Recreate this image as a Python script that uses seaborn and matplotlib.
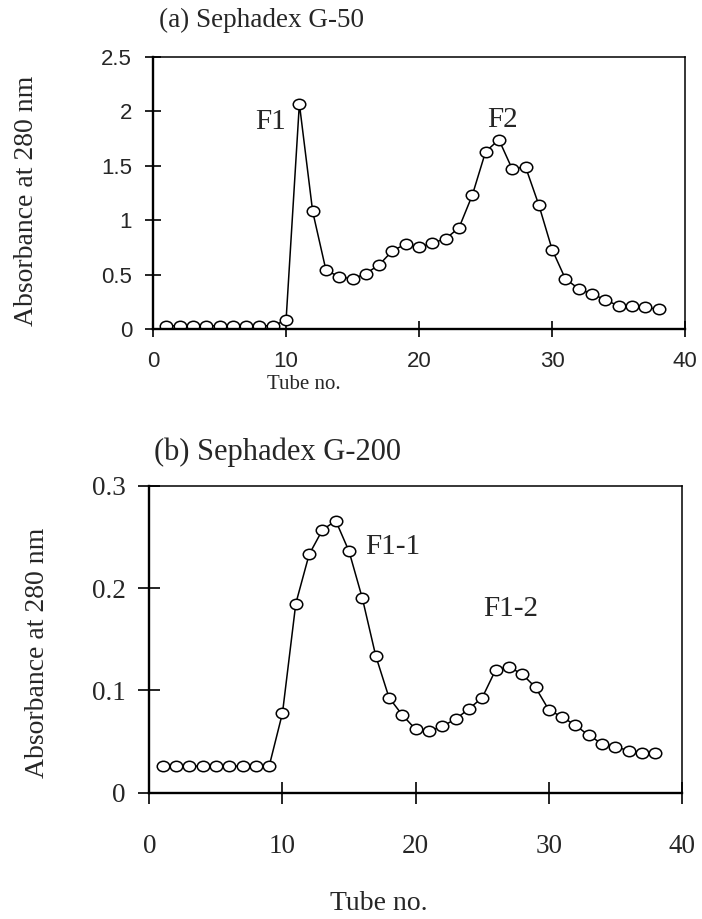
import numpy as np
import pandas as pd
import matplotlib
matplotlib.use("Agg")
import matplotlib.pyplot as plt
from matplotlib.path import Path
from matplotlib import font_manager
import seaborn as sns

sns.set_theme(style="white")
plt.rcParams['font.family'] = ['Liberation Serif', 'DejaVu Serif']

# ---- data ----
tubes = list(range(1, 39))
abs_g50 = [0.03, 0.03, 0.03, 0.03, 0.03, 0.03, 0.03, 0.03, 0.03, 0.08,
           2.07, 1.08, 0.54, 0.48, 0.46, 0.51, 0.59, 0.72, 0.78, 0.75,
           0.79, 0.83, 0.93, 1.23, 1.63, 1.74, 1.47, 1.49, 1.14, 0.73,
           0.46, 0.37, 0.32, 0.27, 0.21, 0.21, 0.20, 0.18]
abs_g200 = [0.026, 0.026, 0.026, 0.026, 0.026, 0.026, 0.026, 0.026, 0.026, 0.078,
            0.185, 0.233, 0.257, 0.266, 0.236, 0.190, 0.134, 0.093, 0.076, 0.062,
            0.060, 0.065, 0.072, 0.082, 0.093, 0.120, 0.123, 0.116, 0.103, 0.081,
            0.074, 0.066, 0.056, 0.048, 0.045, 0.041, 0.039, 0.039]
xticks = [0, 10, 20, 30, 40]
yticks_a = [0, 0.5, 1, 1.5, 2, 2.5]
yticks_a_labels = ["0", "0.5", "1", "1.5", "2", "2.5"]
yticks_b = [0, 0.1, 0.2, 0.3]
yticks_b_labels = ["0", "0.1", "0.2", "0.3"]

df = pd.DataFrame({"tube": tubes, "g50": abs_g50, "g200": abs_g200})

# slightly wide ellipse marker
uc = Path.unit_circle()
ell = Path(uc.vertices * np.array([1.2, 1.0]), uc.codes)

# sans font for top panel ticks
avail = {f.name for f in font_manager.fontManager.ttflist}
sans_tick = 'Liberation Sans Narrow' if 'Liberation Sans Narrow' in avail else 'Liberation Sans'
sans_size = 19 if sans_tick == 'Liberation Sans Narrow' else 16

fig = plt.figure(figsize=(7.02, 9.19), dpi=100)
ax1 = fig.add_axes([0.218, 0.642, 0.758, 0.296])
ax2 = fig.add_axes([0.2127, 0.1374, 0.7588, 0.3338])

line_kw = dict(color="black", linewidth=1.1, marker=ell, markersize=9,
               markerfacecolor="white", markeredgecolor="black",
               markeredgewidth=1.1)

sns.lineplot(data=df, x="tube", y="g50", ax=ax1, **line_kw)
sns.lineplot(data=df, x="tube", y="g200", ax=ax2, **line_kw)

# ---- top panel ----
ax1.set_xlim(0, 40)
ax1.set_ylim(0, 2.5)
ax1.set_xticks(xticks)
ax1.set_xticklabels([str(t) for t in xticks], family=sans_tick, fontsize=sans_size)
ax1.set_yticks(yticks_a)
ax1.set_yticklabels(yticks_a_labels, family=sans_tick, fontsize=sans_size)
ax1.tick_params(bottom=True, left=True, direction="inout", length=12, width=1.2, color="black")
ax1.tick_params(axis="x", pad=10)
ax1.tick_params(axis="y", pad=9)
ax1.set_xlabel("")
ax1.set_ylabel("")
ax1.text(8.8, 1.9, "F1", fontsize=21, ha="center", va="center")
ax1.text(26.3, 1.92, "F2", fontsize=21, ha="center", va="center")

# ---- bottom panel ----
ax2.set_xlim(0, 40)
ax2.set_ylim(0, 0.3)
ax2.set_xticks(xticks)
ax2.set_xticklabels([str(t) for t in xticks], fontsize=19.5)
ax2.set_yticks(yticks_b)
ax2.set_yticklabels(yticks_b_labels, fontsize=19.5)
ax2.tick_params(bottom=True, left=True, direction="inout", length=16, width=1.2, color="black")
ax2.tick_params(axis="x", pad=22)
ax2.tick_params(axis="y", pad=9)
ax2.set_xlabel("")
ax2.set_ylabel("")
ax2.text(18.3, 0.24, "F1-1", fontsize=21, ha="center", va="center")
ax2.text(27.1, 0.18, "F1-2", fontsize=21, ha="center", va="center")

for ax in (ax1, ax2):
    for side in ("left", "bottom"):
        ax.spines[side].set_linewidth(1.7)
        ax.spines[side].set_color("black")
    for side in ("top", "right"):
        ax.spines[side].set_linewidth(1.1)
        ax.spines[side].set_color("black")
    ax.grid(False)

# titles and labels
fig.text(0.373, 0.978, "(a) Sephadex G-50", fontsize=19.5, ha="center", va="center")
fig.text(0.396, 0.508, "(b) Sephadex G-200", fontsize=22, ha="center", va="center")
fig.text(0.038, 0.781, "Absorbance at 280 nm", fontsize=20, rotation=90, ha="center", va="center")
fig.text(0.053, 0.290, "Absorbance at 280 nm", fontsize=20, rotation=90, ha="center", va="center")
fig.text(0.433, 0.582, "Tube no.", fontsize=15, ha="center", va="center")
fig.text(0.540, 0.017, "Tube no.", fontsize=20, ha="center", va="center")

fig.savefig("out.png", dpi=100)
